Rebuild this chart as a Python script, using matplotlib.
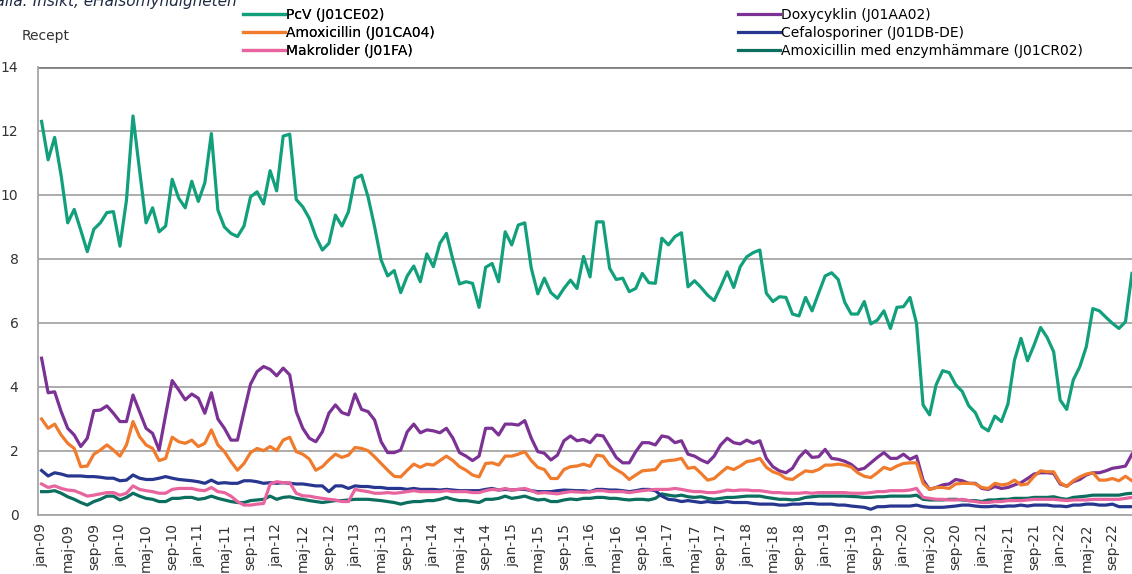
import matplotlib.pyplot as plt
import numpy as np

# månadsdata jan-09 .. dec-22 (recept)
months = ['jan', 'feb', 'mar', 'apr', 'maj', 'jun', 'jul', 'aug', 'sep', 'okt', 'nov', 'dec']
years = list(range(9, 23))
periods = ['{}-{:02d}'.format(m, y) for y in years for m in months]

pcv = [12.3, 11.1, 11.8, 10.6, 9.13, 9.55, 8.9, 8.23, 8.93, 9.13,
       9.45, 9.48, 8.4, 9.84, 12.47, 10.78, 9.13, 9.6, 8.85, 9.03,
       10.49, 9.9, 9.6, 10.43, 9.8, 10.38, 11.92, 9.53, 9.0, 8.8,
       8.7, 9.03, 9.94, 10.1, 9.72, 10.76, 10.13, 11.84, 11.9, 9.86,
       9.63, 9.27, 8.7, 8.28, 8.49, 9.37, 9.03, 9.48, 10.52, 10.62,
       9.94, 9.01, 7.97, 7.47, 7.64, 6.95, 7.47, 7.78, 7.29, 8.16,
       7.76, 8.49, 8.8, 7.97, 7.22, 7.29, 7.24, 6.49, 7.74, 7.86,
       7.29, 8.85, 8.44, 9.06, 9.13, 7.71, 6.91, 7.4, 6.95, 6.77,
       7.08, 7.34, 7.08, 8.08, 7.44, 9.16, 9.16, 7.71, 7.36, 7.4,
       6.98, 7.08, 7.55, 7.26, 7.24, 8.65, 8.44, 8.7, 8.82, 7.13,
       7.32, 7.11, 6.87, 6.7, 7.13, 7.6, 7.11, 7.76, 8.07, 8.2,
       8.28, 6.93, 6.67, 6.82, 6.8, 6.28, 6.22, 6.8, 6.38, 6.93,
       7.47, 7.57, 7.36, 6.65, 6.28, 6.28, 6.67, 5.97, 6.09, 6.38,
       5.83, 6.49, 6.51, 6.8, 5.99, 3.44, 3.13, 4.07, 4.51, 4.45,
       4.07, 3.86, 3.41, 3.2, 2.76, 2.63, 3.09, 2.92, 3.47, 4.84,
       5.52, 4.82, 5.31, 5.86, 5.55, 5.1, 3.59, 3.3, 4.22, 4.63,
       5.26, 6.45, 6.38, 6.18, 5.99, 5.83, 6.04, 7.55]

doxy = [4.9, 3.82, 3.85, 3.23, 2.71, 2.5, 2.14, 2.4, 3.26, 3.28,
        3.41, 3.18, 2.92, 2.92, 3.75, 3.23, 2.71, 2.55, 2.03, 3.13,
        4.2, 3.91, 3.6, 3.78, 3.65, 3.18, 3.82, 3.0, 2.71, 2.34,
        2.34, 3.23, 4.09, 4.48, 4.64, 4.55, 4.35, 4.59, 4.38, 3.23,
        2.71, 2.4, 2.29, 2.6, 3.18, 3.44, 3.2, 3.13, 3.78, 3.3,
        3.23, 2.97, 2.29, 1.95, 1.95, 2.03, 2.6, 2.84, 2.57, 2.66,
        2.63, 2.57, 2.71, 2.4, 1.95, 1.84, 1.7, 1.84, 2.71, 2.71,
        2.5, 2.84, 2.84, 2.81, 2.95, 2.4, 1.98, 1.93, 1.72, 1.87,
        2.32, 2.47, 2.32, 2.36, 2.26, 2.5, 2.47, 2.14, 1.8, 1.63,
        1.63, 1.98, 2.26, 2.26, 2.19, 2.47, 2.43, 2.26, 2.32, 1.9,
        1.84, 1.72, 1.63, 1.84, 2.19, 2.4, 2.26, 2.22, 2.34, 2.24,
        2.32, 1.77, 1.51, 1.38, 1.32, 1.46, 1.8, 2.01, 1.8, 1.82,
        2.05, 1.77, 1.74, 1.68, 1.58, 1.41, 1.46, 1.63, 1.8, 1.95,
        1.77, 1.77, 1.9, 1.74, 1.84, 1.09, 0.8, 0.86, 0.94, 0.97,
        1.11, 1.07, 0.99, 0.99, 0.83, 0.8, 0.89, 0.83, 0.86, 0.94,
        1.01, 1.14, 1.28, 1.32, 1.32, 1.3, 0.97, 0.9, 1.04, 1.11,
        1.25, 1.32, 1.32, 1.38, 1.46, 1.49, 1.53, 1.9]

amox = [3.0, 2.71, 2.84, 2.5, 2.24, 2.08, 1.51, 1.53, 1.9, 2.03,
        2.19, 2.03, 1.84, 2.19, 2.92, 2.45, 2.19, 2.08, 1.7, 1.77,
        2.43, 2.29, 2.24, 2.34, 2.14, 2.24, 2.66, 2.19, 1.98, 1.67,
        1.4, 1.61, 1.95, 2.08, 2.01, 2.14, 2.01, 2.34, 2.43, 1.98,
        1.9, 1.75, 1.4, 1.51, 1.72, 1.9, 1.8, 1.87, 2.11, 2.08,
        2.01, 1.82, 1.61, 1.4, 1.21, 1.19, 1.4, 1.59, 1.49, 1.59,
        1.56, 1.7, 1.84, 1.7, 1.51, 1.4, 1.25, 1.19, 1.61, 1.63,
        1.56, 1.84, 1.84, 1.9, 1.98, 1.7, 1.49, 1.42, 1.14, 1.14,
        1.42, 1.51, 1.53, 1.59, 1.52, 1.87, 1.84, 1.56, 1.42, 1.3,
        1.11, 1.25, 1.38, 1.4, 1.42, 1.67, 1.7, 1.72, 1.77, 1.46,
        1.49, 1.3, 1.09, 1.14, 1.32, 1.49, 1.42, 1.53, 1.67, 1.7,
        1.77, 1.49, 1.35, 1.28, 1.14, 1.11, 1.25, 1.38, 1.35, 1.42,
        1.56, 1.56, 1.59, 1.56, 1.5, 1.32, 1.21, 1.17, 1.32, 1.49,
        1.42, 1.53, 1.61, 1.63, 1.63, 0.99, 0.8, 0.86, 0.86, 0.83,
        0.97, 0.99, 0.99, 0.97, 0.86, 0.83, 0.99, 0.94, 0.97, 1.09,
        0.94, 0.97, 1.21, 1.38, 1.35, 1.35, 1.01, 0.89, 1.07, 1.19,
        1.28, 1.32, 1.09, 1.09, 1.14, 1.07, 1.21, 1.07]

cefa = [1.39, 1.22, 1.32, 1.28, 1.22, 1.22, 1.22, 1.2, 1.2, 1.18,
        1.15, 1.15, 1.07, 1.09, 1.25, 1.15, 1.11, 1.11, 1.15, 1.2,
        1.15, 1.11, 1.09, 1.07, 1.04, 0.99, 1.09, 0.99, 1.01, 0.99,
        0.99, 1.07, 1.07, 1.04, 0.99, 1.01, 0.99, 1.01, 0.99, 0.97,
        0.97, 0.94, 0.91, 0.91, 0.73, 0.91, 0.91, 0.83, 0.91, 0.89,
        0.89, 0.86, 0.86, 0.83, 0.83, 0.83, 0.8, 0.83, 0.8, 0.8,
        0.8, 0.78, 0.8, 0.78, 0.76, 0.76, 0.76, 0.76, 0.8, 0.83,
        0.78, 0.8, 0.78, 0.8, 0.8, 0.76, 0.73, 0.73, 0.73, 0.76,
        0.78, 0.77, 0.76, 0.76, 0.73, 0.8, 0.8, 0.78, 0.78, 0.76,
        0.73, 0.76, 0.8, 0.8, 0.76, 0.59, 0.49, 0.47, 0.42, 0.45,
        0.42, 0.39, 0.42, 0.39, 0.39, 0.42, 0.39, 0.39, 0.39, 0.36,
        0.34, 0.34, 0.34, 0.31, 0.31, 0.34, 0.34, 0.36, 0.36, 0.34,
        0.34, 0.34, 0.31, 0.31, 0.28, 0.26, 0.24, 0.18, 0.26, 0.26,
        0.28, 0.28, 0.28, 0.28, 0.31, 0.26, 0.24, 0.24, 0.24, 0.26,
        0.28, 0.31, 0.31, 0.28, 0.26, 0.26, 0.28, 0.26, 0.28, 0.28,
        0.31, 0.28, 0.31, 0.31, 0.31, 0.28, 0.28, 0.26, 0.31, 0.31,
        0.34, 0.34, 0.31, 0.31, 0.34, 0.26, 0.26, 0.26]

makro = [0.97, 0.86, 0.91, 0.83, 0.78, 0.76, 0.68, 0.59, 0.62, 0.66,
         0.7, 0.7, 0.62, 0.68, 0.91, 0.8, 0.76, 0.73, 0.68, 0.68,
         0.8, 0.83, 0.83, 0.83, 0.78, 0.76, 0.86, 0.73, 0.7, 0.59,
         0.42, 0.31, 0.31, 0.34, 0.36, 0.97, 1.04, 1.01, 1.01, 0.68,
         0.6, 0.59, 0.55, 0.52, 0.49, 0.47, 0.42, 0.42, 0.8, 0.76,
         0.73, 0.68, 0.68, 0.7, 0.68, 0.7, 0.73, 0.76, 0.73, 0.73,
         0.73, 0.73, 0.76, 0.73, 0.73, 0.73, 0.7, 0.7, 0.76, 0.8,
         0.78, 0.83, 0.78, 0.8, 0.83, 0.76, 0.68, 0.7, 0.68, 0.66,
         0.7, 0.73, 0.72, 0.71, 0.72, 0.76, 0.76, 0.73, 0.73, 0.73,
         0.7, 0.73, 0.76, 0.78, 0.8, 0.8, 0.8, 0.83, 0.8, 0.76,
         0.73, 0.73, 0.7, 0.7, 0.73, 0.78, 0.76, 0.78, 0.78, 0.76,
         0.76, 0.73, 0.7, 0.7, 0.68, 0.68, 0.68, 0.7, 0.68, 0.7,
         0.7, 0.7, 0.7, 0.7, 0.68, 0.68, 0.68, 0.7, 0.73, 0.73,
         0.76, 0.76, 0.76, 0.78, 0.83, 0.55, 0.52, 0.49, 0.49, 0.47,
         0.47, 0.49, 0.45, 0.42, 0.39, 0.39, 0.42, 0.42, 0.45, 0.45,
         0.45, 0.47, 0.49, 0.49, 0.49, 0.49, 0.47, 0.45, 0.47, 0.47,
         0.47, 0.49, 0.49, 0.49, 0.49, 0.49, 0.52, 0.55]

amox_enz = [0.73, 0.73, 0.76, 0.68, 0.57, 0.49, 0.39, 0.31, 0.42, 0.49,
            0.59, 0.59, 0.47, 0.55, 0.68, 0.59, 0.52, 0.49, 0.42, 0.42,
            0.52, 0.52, 0.55, 0.55, 0.49, 0.52, 0.59, 0.52, 0.47, 0.42,
            0.39, 0.39, 0.45, 0.47, 0.49, 0.59, 0.49, 0.55, 0.57, 0.52,
            0.49, 0.45, 0.42, 0.39, 0.42, 0.45, 0.45, 0.47, 0.49, 0.49,
            0.49, 0.47, 0.45, 0.42, 0.39, 0.34, 0.39, 0.42, 0.42, 0.45,
            0.45, 0.49, 0.55, 0.49, 0.45, 0.45, 0.42, 0.39, 0.49, 0.49,
            0.52, 0.59, 0.52, 0.55, 0.59, 0.52, 0.47, 0.49, 0.42, 0.42,
            0.47, 0.5, 0.48, 0.52, 0.52, 0.55, 0.55, 0.52, 0.52, 0.49,
            0.47, 0.49, 0.49, 0.47, 0.52, 0.66, 0.62, 0.59, 0.62, 0.57,
            0.55, 0.57, 0.52, 0.49, 0.52, 0.55, 0.55, 0.57, 0.59, 0.59,
            0.59, 0.55, 0.52, 0.49, 0.49, 0.47, 0.49, 0.55, 0.57, 0.59,
            0.59, 0.59, 0.59, 0.59, 0.58, 0.57, 0.55, 0.55, 0.57, 0.57,
            0.59, 0.59, 0.59, 0.59, 0.62, 0.49, 0.47, 0.47, 0.47, 0.49,
            0.49, 0.47, 0.45, 0.45, 0.42, 0.47, 0.47, 0.49, 0.49, 0.52,
            0.52, 0.52, 0.55, 0.55, 0.55, 0.57, 0.52, 0.49, 0.55, 0.57,
            0.59, 0.62, 0.62, 0.62, 0.62, 0.62, 0.66, 0.68]

series = [
    ('PcV (J01CE02)', pcv, '#12a07c'),
    ('Amoxicillin (J01CA04)', amox, '#f07b2c'),
    ('Makrolider (J01FA)', makro, '#e8649f'),
    ('Doxycyklin (J01AA02)', doxy, '#7b3294'),
    ('Cefalosporiner (J01DB-DE)', cefa, '#27378f'),
    ('Amoxicillin med enzymhämmare (J01CR02)', amox_enz, '#0c6e5f'),
]

fig = plt.figure(figsize=(11.32, 5.74), dpi=100)
ax = fig.add_axes([38 / 1132, 59 / 574, 1094 / 1132, 448 / 574])

x = np.arange(len(periods))
lines = []
# rita i omvänd ordning så PcV hamnar överst
for name, vals, col in series[::-1]:
    ln, = ax.plot(x, vals, color=col, lw=2.3, label=name, solid_joinstyle='round')
    lines.append(ln)
lines = lines[::-1]

ax.set_ylim(0, 14)
ax.set_xlim(-0.55, len(periods) - 1)
ax.set_yticks(range(0, 15, 2))
ax.set_xticks(x[::4])
ax.set_xticklabels(periods[::4], rotation=90, fontsize=10, color='#333333')
ax.tick_params(axis='both', length=0, labelsize=10, colors='#333333')
ax.tick_params(axis='y', pad=14)
ax.tick_params(axis='x', pad=6)
ax.grid(axis='y', color='#a6a6a6', lw=1.3)
ax.set_axisbelow(True)
for s in ['top', 'right']:
    ax.spines[s].set_visible(False)
ax.spines['left'].set_color('#a6a6a6')
ax.spines['bottom'].set_color('#a6a6a6')
ax.spines['left'].set_linewidth(1.3)
ax.spines['bottom'].set_linewidth(1.3)
ax.axhline(14, color='#7f7f7f', lw=2)

fig.text(22 / 1132, 1 - 36 / 574, 'Recept', fontsize=10, color='#333333', va='center')
# källtexten är avskuren i överkant även i förlagan
fig.text(-0.012, 0.998, 'Källa: Insikt, eHälsomyndigheten', fontsize=11, style='italic',
         color='#1f2a44', va='center')

legend_kw = dict(loc='upper left', frameon=False, fontsize=10, handlelength=3.0,
                 handletextpad=0.1, labelspacing=0.3, borderpad=0.0)
leg1 = fig.legend(lines[:3], [s[0] for s in series[:3]],
                  bbox_to_anchor=(236 / 1132, 1 - 1 / 574), **legend_kw)
fig.add_artist(leg1)
fig.legend(lines[3:], [s[0] for s in series[3:]],
           bbox_to_anchor=(731 / 1132, 1 - 1 / 574), **legend_kw)

fig.savefig('out.png', dpi=100)
